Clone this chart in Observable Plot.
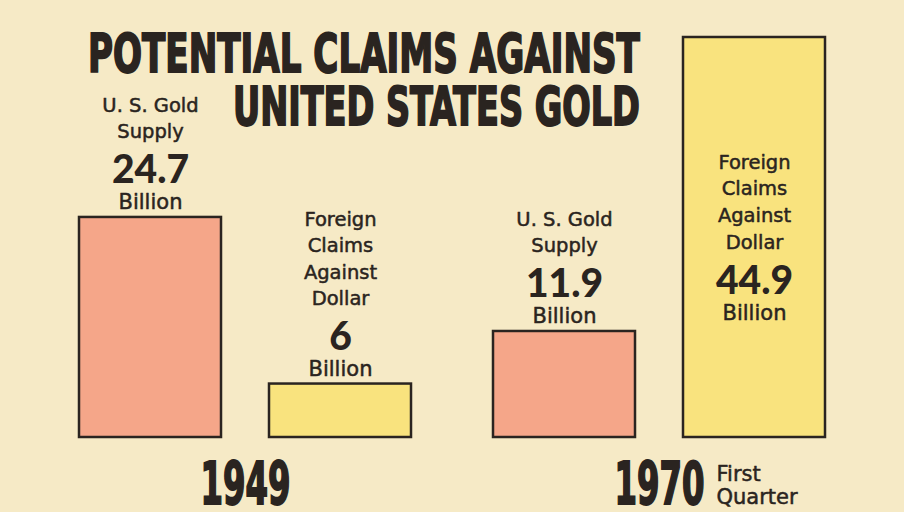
<!DOCTYPE html>
<html>
<head>
<meta charset="utf-8">
<script src="https://cdn.jsdelivr.net/npm/d3@7"></script>
<script src="https://cdn.jsdelivr.net/npm/@observablehq/plot@0.6"></script>
<style>
  html, body { margin: 0; padding: 0; background: #f6eac6; }
  #wrap { position: relative; width: 904px; height: 512px; overflow: hidden; }
  #title { position: absolute; left: 0; top: 0; pointer-events: none; }
</style>
</head>
<body>
<div id="wrap">
  <div id="chart"></div>
  <svg id="title" width="904" height="140"></svg>
</div>
<script>
// ---- data ----
const titleLines = ["POTENTIAL CLAIMS AGAINST", "UNITED STATES GOLD"];
const years = [1949, 1970];
const series = ["U. S. Gold Supply", "Foreign Claims Against Dollar"];
const seriesLabels = ["U. S. Gold\nSupply", "Foreign\nClaims\nAgainst\nDollar"];
const goldSupply = [24.7, 11.9];      // billions
const foreignClaims = [6, 44.9];      // billions
const unit = "Billion";
const yearNotes = [{year: 1970, note: "First\nQuarter"}];

// ---- style ----
const bg = "#f6eac6";
const ink = "#2a2420";
const salmon = "#f5a689";
const yellow = "#f9e37e";
const condensed = "'Liberation Sans Narrow', 'DejaVu Sans Condensed', 'Arial Narrow', sans-serif";
const labelFont = "'DejaVu Sans', sans-serif";
const numFont = "Lato, 'DejaVu Sans', sans-serif";

// ---- table ----
const rows = years.flatMap((year, i) => [
  {year, series: series[0], desc: seriesLabels[0], value: goldSupply[i]},
  {year, series: series[1], desc: seriesLabels[1], value: foreignClaims[i]}
]);
const maxV = d3.max(rows, d => d.value);
rows.forEach(d => d.inside = d.value === maxV);
const outside = rows.filter(d => !d.inside);
const inside = rows.filter(d => d.inside);

const base = {fx: "year", x: "series", fill: ink, textAnchor: "middle"};
const descStyle = {fontSize: 19.5, lineHeight: 1.36, fontWeight: 500, fontFamily: labelFont, stroke: ink, strokeWidth: 0.5};
const numStyle = {fontSize: 39, fontWeight: 900, fontFamily: numFont};
const unitStyle = {fontSize: 21, fontWeight: 500, fontFamily: labelFont, stroke: ink, strokeWidth: 0.5};

const chart = Plot.plot({
  width: 904,
  height: 512,
  marginLeft: 78,
  marginRight: 77,
  marginTop: 37,
  marginBottom: 75,
  style: {background: bg, color: ink, fontFamily: labelFont, overflow: "visible"},
  fx: {domain: years, paddingInner: 0.193, paddingOuter: 0, label: null},
  x: {domain: series, paddingInner: 0.251, paddingOuter: 0, axis: null},
  y: {domain: [0, maxV], axis: null},
  color: {domain: series, range: [salmon, yellow]},
  marks: [
    Plot.barY(rows, {fx: "year", x: "series", y: "value", fill: "series", stroke: ink, strokeWidth: 2.5}),
    // labels above bars
    Plot.text(outside, {...base, ...descStyle, y: "value", text: "desc", lineAnchor: "bottom", dy: -79}),
    Plot.text(outside, {...base, ...numStyle, y: "value", text: d => String(d.value), lineAnchor: "bottom", dy: -34}),
    Plot.text(outside, {...base, ...unitStyle, y: "value", text: () => unit, lineAnchor: "bottom", dy: -8}),
    // label inside the tallest bar
    Plot.text(inside, {...base, ...descStyle, y: d => d.value / 2, text: "desc", lineAnchor: "bottom", dy: 11}),
    Plot.text(inside, {...base, ...numStyle, y: d => d.value / 2, text: d => String(d.value), lineAnchor: "bottom", dy: 56}),
    Plot.text(inside, {...base, ...unitStyle, y: d => d.value / 2, text: () => unit, lineAnchor: "bottom", dy: 82}),
    // year note
    Plot.text(yearNotes, {fx: "year", text: "note", frameAnchor: "bottom", textAnchor: "start", lineAnchor: "top",
      dx: 57, dy: 27, fontSize: 21, lineHeight: 1.1, fontWeight: 500, fill: ink, fontFamily: labelFont,
      stroke: ink, strokeWidth: 0.5}),
    Plot.axisFx({anchor: "bottom", tickSize: 0, tickPadding: 25, label: null, fontSize: 58,
      fontWeight: "bold", fontFamily: condensed, tickFormat: d => String(d)})
  ]
});
document.getElementById("chart").appendChild(chart);

// condense and thicken the year labels like the original typeface
d3.select(chart).selectAll('g[aria-label="fx-axis tick label"] text').each(function() {
  const w = this.getComputedTextLength();
  const sx = 90 / w;
  const t = this.getAttribute("transform") || "";
  this.setAttribute("transform", `${t} scale(${sx},1)`);
  this.setAttribute("stroke", ink);
  this.setAttribute("stroke-width", 1.2 / sx);
});

// title
const tsvg = d3.select("#title");
const titleSpec = [{x: 88, y: 72, len: 552}, {x: 233, y: 125, len: 407}];
titleLines.forEach((t, i) => {
  const el = tsvg.append("text")
    .attr("font-family", condensed).attr("font-weight", "bold").attr("font-size", 53)
    .attr("fill", ink).attr("stroke", ink)
    .text(t);
  const w = el.node().getComputedTextLength();
  const sx = titleSpec[i].len / w;
  el.attr("transform", `translate(${titleSpec[i].x},${titleSpec[i].y}) scale(${sx},1)`)
    .attr("stroke-width", 1.3 / sx);
});
</script>
</body>
</html>
